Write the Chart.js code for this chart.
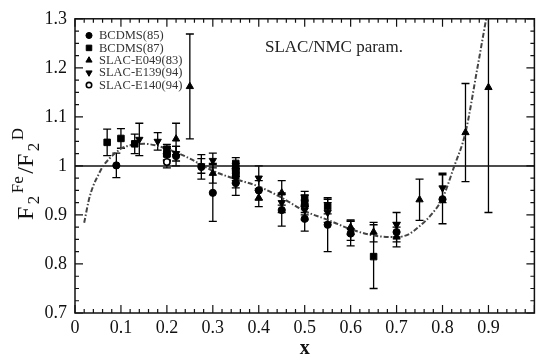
<!DOCTYPE html>
<html>
<head>
<meta charset="utf-8">
<script src="https://cdn.jsdelivr.net/npm/chart.js@4.4.1/dist/chart.umd.min.js"></script>
<style>
  html, body { margin: 0; padding: 0; background: #fff; }
  #wrap { width: 540px; height: 357px; }
</style>
</head>
<body>
<div id="wrap"><canvas id="c" width="540" height="357"></canvas></div>
<script>
// ---- tick labels ----
const xTickLabels = ['0', '0.1', '0.2', '0.3', '0.4', '0.5', '0.6', '0.7', '0.8', '0.9', ''];
const yTickLabels = ['0.7', '0.8', '0.9', '1', '1.1', '1.2', '1.3'];

// ---- series names ----
const seriesNames = ['BCDMS(85)', 'BCDMS(87)', 'SLAC-E049(83)', 'SLAC-E139(94)', 'SLAC-E140(94)'];

// ---- BCDMS(85) filled circles ----
const bcdms85X   = [0.09, 0.20, 0.22, 0.275, 0.30, 0.35, 0.40, 0.45, 0.50, 0.55, 0.60, 0.70, 0.80];
const bcdms85Y   = [1.001, 1.025, 1.020, 0.998, 0.945, 0.965, 0.950, 0.910, 0.892, 0.880, 0.862, 0.865, 0.932];
const bcdms85Err = [0.025, 0.015, 0.020, 0.025, 0.058, 0.025, 0.020, 0.033, 0.025, 0.055, 0.025, 0.020, 0.050];

// ---- BCDMS(87) filled squares ----
const bcdms87X   = [0.07, 0.10, 0.13, 0.20, 0.20, 0.35, 0.35, 0.35, 0.50, 0.50, 0.55, 0.65];
const bcdms87Y   = [1.048, 1.056, 1.045, 1.034, 1.024, 1.005, 0.992, 0.980, 0.933, 0.923, 0.917, 0.815];
const bcdms87Err = [0.027, 0.020, 0.020, 0.010, 0.012, 0.012, 0.013, 0.015, 0.015, 0.018, 0.015, 0.065];

// ---- SLAC-E049(83) triangles ----
const e049X   = [0.22, 0.25, 0.30, 0.40, 0.45, 0.60, 0.65, 0.70, 0.75, 0.85, 0.90];
const e049Y   = [1.055, 1.162, 0.985, 0.935, 0.945, 0.875, 0.865, 0.855, 0.931, 1.068, 1.160];
const e049Err = [0.032, 0.107, 0.020, 0.018, 0.025, 0.015, 0.020, 0.020, 0.042, 0.100, 0.255];

// ---- SLAC-E139(94) inverted triangles ----
const e139X   = [0.14, 0.18, 0.22, 0.275, 0.30, 0.35, 0.40, 0.45, 0.50, 0.55, 0.60, 0.70, 0.80];
const e139Y   = [1.054, 1.050, 1.025, 1.000, 1.011, 0.975, 0.975, 0.925, 0.910, 0.905, 0.868, 0.880, 0.955];
const e139Err = [0.033, 0.018, 0.015, 0.015, 0.015, 0.020, 0.025, 0.020, 0.020, 0.020, 0.020, 0.025, 0.030];

// ---- SLAC-E140(94) open circles ----
const e140X   = [0.20, 0.35, 0.50];
const e140Y   = [1.008, 0.985, 0.920];
const e140Err = [0.012, 0.015, 0.020];

// ---- SLAC/NMC parametrization curve ----
const curveX = [0.02, 0.03, 0.04, 0.05, 0.06, 0.075, 0.10, 0.125, 0.15, 0.175, 0.20, 0.25, 0.30, 0.35, 0.40, 0.45, 0.50, 0.55, 0.60, 0.65, 0.70, 0.725, 0.75, 0.775, 0.80, 0.825, 0.85, 0.875, 0.895];
const curveY = [0.884, 0.930, 0.960, 0.980, 0.998, 1.015, 1.035, 1.043, 1.045, 1.042, 1.035, 1.015, 0.990, 0.973, 0.958, 0.935, 0.908, 0.890, 0.871, 0.858, 0.855, 0.860, 0.877, 0.900, 0.934, 0.998, 1.068, 1.195, 1.300];

// ---- reference line ----
const refX = [0, 1];
const refY = [1, 1];

const FONT = "'Liberation Serif', 'DejaVu Serif', serif";
const toPts = (xs, ys) => xs.map((x, i) => ({ x: x, y: ys[i] }));

const markerStyles = [
  { pointStyle: 'circle',   rotation: 0,   radius: 3.6, fill: '#000', stroke: '#000', bw: 1 },
  { pointStyle: 'rect',     rotation: 0,   radius: 4.6, fill: '#000', stroke: '#000', bw: 1 },
  { pointStyle: 'triangle', rotation: 0,   radius: 4.2, fill: '#000', stroke: '#000', bw: 1 },
  { pointStyle: 'triangle', rotation: 180, radius: 4.2, fill: '#000', stroke: '#000', bw: 1 },
  { pointStyle: 'circle',   rotation: 0,   radius: 3.2, fill: '#fff', stroke: '#000', bw: 1.6 }
];
const seriesX = [bcdms85X, bcdms87X, e049X, e139X, e140X];
const seriesY = [bcdms85Y, bcdms87Y, e049Y, e139Y, e140Y];
const seriesErr = [bcdms85Err, bcdms87Err, e049Err, e139Err, e140Err];

const markerDatasets = seriesNames.map((name, k) => ({
  label: name,
  data: toPts(seriesX[k], seriesY[k]),
  errorBars: seriesErr[k],
  showLine: false,
  pointStyle: markerStyles[k].pointStyle,
  rotation: markerStyles[k].rotation,
  pointRadius: markerStyles[k].radius,
  pointBackgroundColor: markerStyles[k].fill,
  pointBorderColor: markerStyles[k].stroke,
  pointBorderWidth: markerStyles[k].bw,
  order: 1 + k
}));

const errorBarPlugin = {
  id: 'errorBars',
  beforeDatasetsDraw(chart) {
    const { ctx, chartArea: a, scales: { x, y } } = chart;
    ctx.save();
    ctx.beginPath();
    ctx.rect(a.left, a.top, a.right - a.left, a.bottom - a.top);
    ctx.clip();
    ctx.strokeStyle = '#000';
    ctx.lineWidth = 1.3;
    chart.data.datasets.forEach(ds => {
      if (!ds.errorBars) return;
      ds.data.forEach((p, i) => {
        const e = ds.errorBars[i];
        const px = x.getPixelForValue(p.x);
        const p1 = y.getPixelForValue(p.y + e);
        const p2 = y.getPixelForValue(p.y - e);
        ctx.beginPath();
        ctx.moveTo(px, p1); ctx.lineTo(px, p2);
        ctx.moveTo(px - 4, p1); ctx.lineTo(px + 4, p1);
        ctx.moveTo(px - 4, p2); ctx.lineTo(px + 4, p2);
        ctx.stroke();
      });
    });
    ctx.restore();
  }
};

const framePlugin = {
  id: 'frame',
  afterDatasetsDraw(chart) {
    const { ctx, chartArea: a, scales: { x, y } } = chart;
    ctx.save();
    ctx.strokeStyle = '#111';
    ctx.lineWidth = 1.5;
    ctx.strokeRect(a.left, a.top, a.right - a.left, a.bottom - a.top);
    ctx.lineWidth = 1.2;
    ctx.beginPath();
    for (let i = 0; i <= 50; i++) {
      const px = x.getPixelForValue(i * 0.02);
      const len = i % 5 === 0 ? 8 : 4;
      ctx.moveTo(px, a.bottom); ctx.lineTo(px, a.bottom - len);
      ctx.moveTo(px, a.top); ctx.lineTo(px, a.top + len);
    }
    for (let i = 0; i <= 24; i++) {
      const py = y.getPixelForValue(0.7 + i * 0.025);
      const len = i % 4 === 0 ? 8 : 4;
      ctx.moveTo(a.left, py); ctx.lineTo(a.left + len, py);
      ctx.moveTo(a.right, py); ctx.lineTo(a.right - len, py);
    }
    ctx.stroke();
    ctx.restore();
  },
  afterDraw(chart) {
    const { ctx, chartArea: a } = chart;
    ctx.save();
    // legend
    ctx.font = '12.5px ' + FONT;
    ctx.textBaseline = 'middle';
    ctx.textAlign = 'left';
    seriesNames.forEach((name, k) => {
      const cy = 35.5 + k * 12.4;
      const m = markerStyles[k];
      ctx.fillStyle = m.fill;
      ctx.strokeStyle = m.stroke;
      ctx.lineWidth = m.bw;
      Chart.helpers.drawPoint(ctx, { pointStyle: m.pointStyle, rotation: m.rotation, radius: m.radius * 0.85, borderWidth: m.bw }, 89, cy);
      ctx.fillStyle = '#333';
      ctx.fillText(name, 99, cy + 0.5);
    });
    // annotation
    ctx.font = '17px ' + FONT;
    ctx.fillStyle = '#222';
    ctx.fillText('SLAC/NMC param.', 265, 48);
    // x title
    ctx.font = 'bold 20px ' + FONT;
    ctx.textAlign = 'center';
    ctx.textBaseline = 'alphabetic';
    ctx.fillStyle = '#111';
    ctx.fillText('x', (a.left + a.right) / 2, 354);
    // y title with sub/superscripts
    const parts = [
      { t: 'F', big: true, dy: 0 },
      { t: '2', big: false, dy: 6 },
      { t: 'Fe', big: false, dy: -10 },
      { t: '/F', big: true, dy: 0 },
      { t: '2', big: false, dy: 6 },
      { t: 'D', big: false, dy: -10 }
    ];
    const bigF = '24px ' + FONT, smallF = '17px ' + FONT;
    const gap = 2.5;
    let total = 0;
    parts.forEach(p => { ctx.font = p.big ? bigF : smallF; p.w = ctx.measureText(p.t).width; total += p.w + gap; });
    total -= gap;
    ctx.translate(33, 174);
    ctx.rotate(-Math.PI / 2);
    ctx.textAlign = 'left';
    ctx.fillStyle = '#111';
    let cx = -total / 2;
    parts.forEach(p => {
      ctx.font = p.big ? bigF : smallF;
      ctx.fillText(p.t, cx, p.dy);
      cx += p.w + gap;
    });
    ctx.restore();
  }
};

Chart.defaults.font.family = FONT;

new Chart(document.getElementById('c'), {
  type: 'scatter',
  data: {
    datasets: [
      ...markerDatasets,
      {
        label: 'SLAC/NMC param.',
        data: toPts(curveX, curveY),
        showLine: true,
        pointRadius: 0,
        borderColor: '#444',
        borderWidth: 2,
        borderDash: [5, 2, 1.5, 2],
        cubicInterpolationMode: 'monotone',
        order: 9
      },
      {
        label: 'ref',
        data: toPts(refX, refY),
        showLine: true,
        pointRadius: 0,
        borderColor: '#111',
        borderWidth: 1.5,
        order: 10
      }
    ]
  },
  options: {
    responsive: false,
    animation: false,
    layout: { padding: { top: 15, right: 1, left: 0, bottom: 0 } },
    plugins: { legend: { display: false }, tooltip: { enabled: false } },
    scales: {
      x: {
        type: 'linear', min: 0, max: 1,
        afterFit(s) { s.height = 44; },
        grid: { display: false, drawTicks: false },
        border: { display: false },
        ticks: {
          stepSize: 0.1, padding: 4, autoSkip: false, maxRotation: 0,
          font: { size: 18, family: FONT }, color: '#111',
          callback: (v, i) => xTickLabels[i] ?? ''
        }
      },
      y: {
        type: 'linear', min: 0.7, max: 1.3,
        afterFit(s) { s.width = 75; },
        grid: { display: false, drawTicks: false },
        border: { display: false },
        ticks: {
          stepSize: 0.1, padding: 8, autoSkip: false,
          font: { size: 18, family: FONT }, color: '#111',
          callback: (v, i) => yTickLabels[i] ?? ''
        }
      }
    }
  },
  plugins: [errorBarPlugin, framePlugin]
});
</script>
</body>
</html>
